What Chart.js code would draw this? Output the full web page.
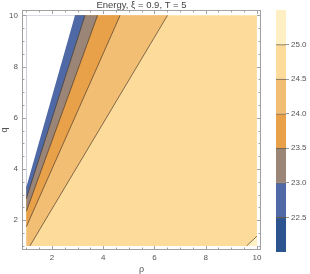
<!DOCTYPE html>
<html>
<head>
<meta charset="utf-8">
<script src="https://cdn.jsdelivr.net/npm/chart.js@4.4.1/dist/chart.umd.min.js"></script>
<style>
  body { margin: 0; background: #fff; }
  #wrap { position: relative; width: 310px; height: 274px; }
  #bar { position: absolute; left: 266px; top: 0; }
</style>
</head>
<body>
<div id="wrap">
  <canvas id="plot" width="310" height="274"></canvas>
  <canvas id="bar" width="44" height="274"></canvas>
</div>
<script>
// contour levels and band colours (lowest band first)
const levels = [22.5, 23.0, 23.5, 24.0, 24.5, 25.0];
const bandLimits = [22.0, 22.5, 23.0, 23.5, 24.0, 24.5, 25.0, 25.5];
const bandColors = ['#2c5590', '#4e69a6', '#9a8577', '#e8a049', '#f2be74', '#fddc9b', '#fef0c3'];

// plotted region
const pRange = [1, 10];
const qRange = [1, 10];
const pTicks = [2, 4, 6, 8, 10];
const qTicks = [2, 4, 6, 8, 10];

// contour lines, [p, q]
const domainEdge = [[1, 3.3], [2.9, 10]];
const line230 = [[1, 2.85], [3.29, 10]];
const line235 = [[1, 2.35], [3.78, 10]];
const line240 = [[1, 1.75], [4.66, 10]];
const line245 = [[1.14, 1], [6.51, 10]];
const line250 = [[9.6, 1], [10, 1.38]];

const lineColor = 'rgba(70,55,40,0.75)';
const font = 'Liberation Sans, Arial, sans-serif';

const toXY = pts => pts.map(([x, y]) => ({ x, y }));
// region left of / above a contour
const leftOf = pts => [...pts, [pRange[0], qRange[1]], [pRange[0], qRange[0]]];

const poly = (pts, color) => ({
  data: toXY(pts),
  backgroundColor: color,
  borderWidth: 0,
  borderColor: 'transparent',
  fill: 'shape',
  pointRadius: 0,
  tension: 0
});
const contour = pts => ({
  data: toXY(pts),
  borderColor: lineColor,
  borderWidth: 0.9,
  fill: false,
  pointRadius: 0,
  tension: 0
});

// first dataset is drawn on top
const datasets = [
  contour(line230),
  contour(line235),
  contour(line240),
  contour(line245),
  contour(line250),
  poly(leftOf(domainEdge), '#ffffff'),
  poly(leftOf(line230), bandColors[1]),
  poly(leftOf(line235), bandColors[2]),
  poly(leftOf(line240), bandColors[3]),
  poly(leftOf(line245), bandColors[4]),
  poly([line250[0], line250[1], [pRange[1], qRange[0]]], bandColors[6]),
  poly([[pRange[0], qRange[0]], [pRange[1], qRange[0]], [pRange[1], qRange[1]], [pRange[0], qRange[1]]], bandColors[5])
];

const framePlugin = {
  id: 'frame',
  afterDatasetsDraw(chart) {
    const { ctx, chartArea: a, scales: { x, y } } = chart;
    ctx.save();
    ctx.strokeStyle = '#a0a0a0';
    ctx.lineWidth = 1;
    ctx.strokeRect(a.left + 0.5, a.top + 0.5, a.width - 1, a.height - 1);
    ctx.beginPath();
    for (let v = 1; v <= 10.001; v += 0.5) {
      const major = pTicks.includes(v);
      const len = major ? 4 : 2.5;
      const px = Math.round(x.getPixelForValue(v)) + 0.5;
      ctx.moveTo(px, a.bottom); ctx.lineTo(px, a.bottom - len);
      ctx.moveTo(px, a.top); ctx.lineTo(px, a.top + len);
      const py = Math.round(y.getPixelForValue(v)) + 0.5;
      ctx.moveTo(a.left, py); ctx.lineTo(a.left + len, py);
      ctx.moveTo(a.right, py); ctx.lineTo(a.right - len, py);
    }
    ctx.stroke();
    ctx.restore();
  }
};

new Chart(document.getElementById('plot'), {
  type: 'line',
  data: { datasets },
  plugins: [framePlugin],
  options: {
    responsive: false,
    devicePixelRatio: 1,
    animation: false,
    events: [],
    layout: { padding: { left: 0, right: 49, top: 0, bottom: 0 } },
    plugins: {
      legend: { display: false },
      tooltip: { enabled: false },
      title: {
        display: true,
        text: 'Energy, ξ = 0.9, T = 5',
        fullSize: false,
        color: '#444',
        font: { family: font, size: 9.5, weight: 'normal', lineHeight: 1.05 },
        padding: { top: 0, bottom: 0 }
      }
    },
    scales: {
      x: {
        type: 'linear',
        min: 0.83,
        max: 10.16,
        afterBuildTicks: s => { s.ticks = pTicks.map(v => ({ value: v })); },
        afterFit: s => { s.height = 24; },
        grid: { display: false, drawTicks: false },
        border: { display: false },
        ticks: { color: '#555', font: { family: font, size: 8 }, padding: 3 },
        title: { display: true, text: 'ρ', color: '#555', font: { family: font, size: 9, lineHeight: 1 }, padding: 0 }
      },
      y: {
        type: 'linear',
        min: 0.84,
        max: 10.21,
        afterBuildTicks: s => { s.ticks = qTicks.map(v => ({ value: v })); },
        afterFit: s => { s.width = 22; },
        grid: { display: false, drawTicks: false },
        border: { display: false },
        ticks: { color: '#555', font: { family: font, size: 8 }, padding: 4 },
        title: { display: true, text: 'q', color: '#555', font: { family: font, size: 9, lineHeight: 1 }, padding: 0 }
      }
    }
  }
});

// colour bar
const barSets = bandColors.map((c, i) => ({
  data: [[bandLimits[i], bandLimits[i + 1]]],
  backgroundColor: c,
  borderColor: lineColor,
  borderWidth: i < levels.length ? { top: 1, right: 0, bottom: 0, left: 0 } : 0,
  borderSkipped: false,
  grouped: false,
  barPercentage: 1,
  categoryPercentage: 1
}));

new Chart(document.getElementById('bar'), {
  type: 'bar',
  data: { labels: [''], datasets: barSets },
  options: {
    responsive: false,
    devicePixelRatio: 1,
    animation: false,
    events: [],
    layout: { padding: { left: 10, right: 0, top: 10, bottom: 22 } },
    plugins: { legend: { display: false }, tooltip: { enabled: false } },
    scales: {
      x: { display: false },
      y: {
        position: 'right',
        min: bandLimits[0],
        max: bandLimits[bandLimits.length - 1],
        afterBuildTicks: s => { s.ticks = levels.map(v => ({ value: v })); },
        afterFit: s => { s.width = 24; },
        grid: { drawOnChartArea: false, tickLength: 3, color: '#999' },
        border: { display: false },
        ticks: { color: '#555', font: { family: font, size: 8 }, padding: 2, callback: v => v.toFixed(1) }
      }
    }
  }
});
</script>
</body>
</html>
